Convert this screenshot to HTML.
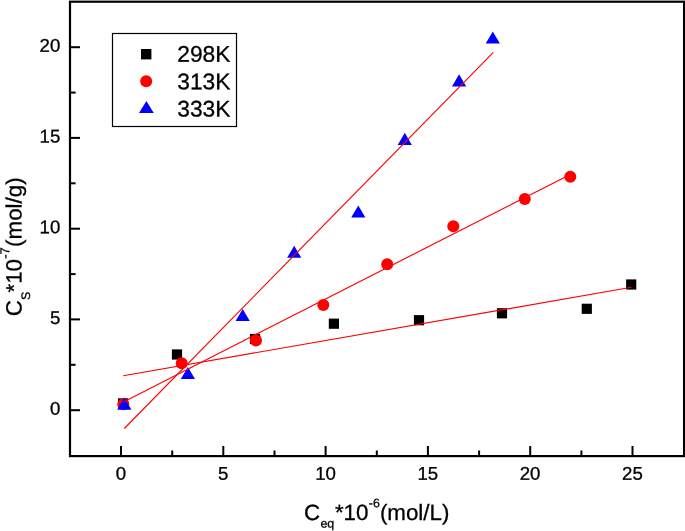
<!DOCTYPE html>
<html><head><meta charset="utf-8"><title>Adsorption isotherms</title>
<style>
html,body{margin:0;padding:0;background:#fff;}
svg{display:block;}
text{font-family:"Liberation Sans",Arial,sans-serif;text-rendering:geometricPrecision;fill:#000;stroke:#000;stroke-width:0.3;}
</style></head><body>
<svg width="685" height="531" viewBox="0 0 685 531">
<rect width="685" height="531" fill="#fff"/>
<rect x="70.0" y="1.7" width="614.1" height="454.4" fill="none" stroke="#000" stroke-width="2.2"/>
<g stroke="#000" stroke-width="2" fill="none">
<line x1="121.0" y1="456.1" x2="121.0" y2="446"/>
<line x1="223.3" y1="456.1" x2="223.3" y2="446"/>
<line x1="325.6" y1="456.1" x2="325.6" y2="446"/>
<line x1="427.9" y1="456.1" x2="427.9" y2="446"/>
<line x1="530.2" y1="456.1" x2="530.2" y2="446"/>
<line x1="632.5" y1="456.1" x2="632.5" y2="446"/>
<line x1="172.2" y1="456.1" x2="172.2" y2="450.5"/>
<line x1="274.5" y1="456.1" x2="274.5" y2="450.5"/>
<line x1="376.8" y1="456.1" x2="376.8" y2="450.5"/>
<line x1="479.1" y1="456.1" x2="479.1" y2="450.5"/>
<line x1="581.4" y1="456.1" x2="581.4" y2="450.5"/>
<line x1="70.0" y1="410.2" x2="80" y2="410.2"/>
<line x1="70.0" y1="319.4" x2="80" y2="319.4"/>
<line x1="70.0" y1="228.7" x2="80" y2="228.7"/>
<line x1="70.0" y1="137.9" x2="80" y2="137.9"/>
<line x1="70.0" y1="47.2" x2="80" y2="47.2"/>
<line x1="70.0" y1="364.8" x2="75.6" y2="364.8"/>
<line x1="70.0" y1="274.1" x2="75.6" y2="274.1"/>
<line x1="70.0" y1="183.3" x2="75.6" y2="183.3"/>
<line x1="70.0" y1="92.6" x2="75.6" y2="92.6"/>
</g>
<text transform="translate(120.9,479.8) rotate(0.03) scale(1,0.99)" font-size="18.63" text-anchor="middle">0</text>
<text transform="translate(223.2,479.8) rotate(0.03) scale(1,0.99)" font-size="18.63" text-anchor="middle">5</text>
<text transform="translate(325.5,479.8) rotate(0.03) scale(1,0.99)" font-size="18.63" text-anchor="middle">10</text>
<text transform="translate(427.8,479.8) rotate(0.03) scale(1,0.99)" font-size="18.63" text-anchor="middle">15</text>
<text transform="translate(530.1,479.8) rotate(0.03) scale(1,0.99)" font-size="18.63" text-anchor="middle">20</text>
<text transform="translate(632.4,479.8) rotate(0.03) scale(1,0.99)" font-size="18.63" text-anchor="middle">25</text>
<text transform="translate(60.3,414.8) rotate(0.03) scale(1,0.99)" font-size="18.63" text-anchor="end">0</text>
<text transform="translate(60.3,324.1) rotate(0.03) scale(1,0.99)" font-size="18.63" text-anchor="end">5</text>
<text transform="translate(60.3,233.3) rotate(0.03) scale(1,0.99)" font-size="18.63" text-anchor="end">10</text>
<text transform="translate(60.3,142.5) rotate(0.03) scale(1,0.99)" font-size="18.63" text-anchor="end">15</text>
<text transform="translate(60.3,51.8) rotate(0.03) scale(1,0.99)" font-size="18.63" text-anchor="end">20</text>
<rect x="118.0" y="398.3" width="10.2" height="10.2" fill="#000"/>
<rect x="171.9" y="349.4" width="10.2" height="10.2" fill="#000"/>
<rect x="249.9" y="333.9" width="10.2" height="10.2" fill="#000"/>
<rect x="328.8" y="318.6" width="10.2" height="10.2" fill="#000"/>
<rect x="413.9" y="315.1" width="10.2" height="10.2" fill="#000"/>
<rect x="496.9" y="308.2" width="10.2" height="10.2" fill="#000"/>
<rect x="581.7" y="303.7" width="10.2" height="10.2" fill="#000"/>
<rect x="626.1" y="279.4" width="10.2" height="10.2" fill="#000"/>
<circle cx="123.3" cy="404.2" r="6" fill="#f00"/>
<circle cx="181.7" cy="363.2" r="6" fill="#f00"/>
<circle cx="256.0" cy="340.6" r="6" fill="#f00"/>
<circle cx="323.3" cy="305.1" r="6" fill="#f00"/>
<circle cx="387.2" cy="264.3" r="6" fill="#f00"/>
<circle cx="453.3" cy="226.3" r="6" fill="#f00"/>
<circle cx="524.8" cy="198.9" r="6" fill="#f00"/>
<circle cx="570.3" cy="176.8" r="6" fill="#f00"/>
<polygon points="124.3,397.6 117.2,409.7 131.4,409.7" fill="#00f"/>
<polygon points="187.9,366.9 180.8,379.0 195.0,379.0" fill="#00f"/>
<polygon points="242.7,308.9 235.6,321.0 249.8,321.0" fill="#00f"/>
<polygon points="294.2,245.7 287.1,257.8 301.3,257.8" fill="#00f"/>
<polygon points="358.3,205.4 351.2,217.5 365.4,217.5" fill="#00f"/>
<polygon points="404.8,132.8 397.7,144.9 411.9,144.9" fill="#00f"/>
<polygon points="459.1,74.3 452.0,86.4 466.2,86.4" fill="#00f"/>
<polygon points="492.8,31.5 485.7,43.6 499.9,43.6" fill="#00f"/>
<line x1="123.2" y1="375.8" x2="631.5" y2="287.3" stroke="#f00" stroke-width="1.15"/>
<line x1="123.5" y1="401.9" x2="570.3" y2="174.4" stroke="#f00" stroke-width="1.15"/>
<line x1="124.3" y1="428.5" x2="493.3" y2="52.3" stroke="#f00" stroke-width="1.15"/>
<rect x="112.5" y="33.5" width="124" height="93" fill="#fff" stroke="#000" stroke-width="1.2"/>
<rect x="141" y="49" width="10.4" height="10.4" fill="#000"/>
<circle cx="146.2" cy="81.2" r="6" fill="#f00"/>
<polygon points="146.4,101 139,113 153.8,113" fill="#00f"/>
<text transform="translate(177.3,61.8) rotate(0.03) scale(1,0.99)" font-size="22.77">298K</text>
<text transform="translate(177.3,89.2) rotate(0.03) scale(1,0.99)" font-size="22.77">313K</text>
<text transform="translate(177.3,116.4) rotate(0.03) scale(1,0.99)" font-size="22.77">333K</text>
<text transform="translate(304,520) rotate(0.03) scale(1,0.99)" font-size="22.33">C</text>
<text transform="translate(320.4,527.5) rotate(0.03) scale(1,0.99)" font-size="12.42">eq</text>
<text transform="translate(334.9,520) rotate(0.03) scale(1,0.99)" font-size="22.33">*10</text>
<text transform="translate(368.8,507.3) rotate(0.03) scale(1,0.99)" font-size="12.42">-6</text>
<text transform="translate(379.9,520) rotate(0.03) scale(1,0.99)" font-size="22.33">(mol/L)</text>
<g transform="translate(21.5,316.2) rotate(-90)">
<text transform="translate(0,0) rotate(0.03) scale(1,0.99)" font-size="22.33">C</text>
<text transform="translate(16.2,8.6) rotate(0.03) scale(1,0.99)" font-size="12.42">S</text>
<text transform="translate(23.7,0) rotate(0.03) scale(1,0.99)" font-size="22.33">*10</text>
<text transform="translate(57.4,-12.3) rotate(0.03) scale(1,0.99)" font-size="12.94">-7</text>
<text transform="translate(69.3,0) rotate(0.03) scale(1,0.99)" font-size="22.33">(mol/g)</text>
</g>
</svg></body></html>
